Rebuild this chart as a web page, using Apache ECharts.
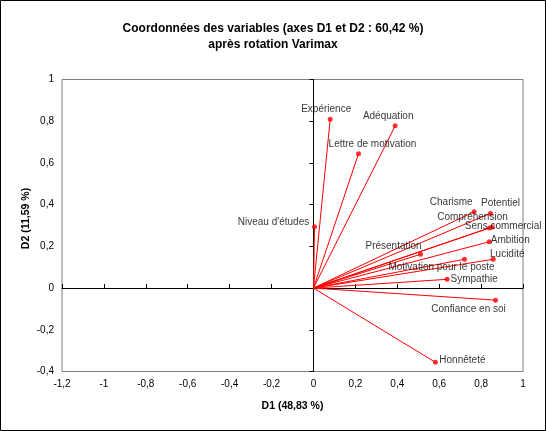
<!DOCTYPE html>
<html>
<head>
<meta charset="utf-8">
<script src="https://cdn.jsdelivr.net/npm/echarts@6/dist/echarts.min.js"></script>
<style>
  html, body { margin: 0; padding: 0; background: #fff; }
  #chart { width: 546px; height: 431px; }
</style>
</head>
<body>
<div id="chart"></div>
<script>
// coordonnées
const variables = [
  "Expérience", "Adéquation", "Lettre de motivation", "Niveau d'études",
  "Charisme", "Potentiel", "Compréhension", "Sens commercial",
  "Ambition", "Lucidité", "Présentation", "Motivation pour le poste",
  "Sympathie", "Confiance en soi", "Honnêteté"
];
const d1 = [0.080, 0.390, 0.215, 0.005, 0.767, 0.845, 0.840, 0.853, 0.839, 0.858, 0.511, 0.721, 0.638, 0.869, 0.582];
const d2 = [0.810, 0.778, 0.644, 0.294, 0.366, 0.358, 0.288, 0.293, 0.222, 0.138, 0.162, 0.138, 0.042, -0.058, -0.356];
const xTicks = [-1.2, -1, -0.8, -0.6, -0.4, -0.2, 0, 0.2, 0.4, 0.6, 0.8, 1];
const yTicks = [-0.4, -0.2, 0, 0.2, 0.4, 0.6, 0.8, 1];

// décalage des étiquettes (px, centre du texte par rapport au point)
const labelOffsets = [
  [-4, -10], [-7, -10], [14, -10], [-41, -5],
  [-23, -9], [10, -10], [-17, -11], [11, -1],
  [21, -2], [14, -5], [-27, -8], [-23, 8],
  [27, 0], [-27, 9], [27, -2]
];

const FONT = "Liberation Sans";
const fmt = (v) => String(Math.round(v * 10) / 10).replace(".", ",");

const chart = echarts.init(document.getElementById("chart"));

const series = [];
variables.forEach((name, i) => {
  series.push({
    name: name,
    type: "line",
    xAxisIndex: 0,
    yAxisIndex: 0,
    data: [[0, 0], [d1[i], d2[i]]],
    symbol: "none",
    lineStyle: { color: "#FF0000", width: 1 },
    silent: true,
    animation: false,
    z: 3,
  });
});
series.push({
  type: "scatter",
  xAxisIndex: 0,
  yAxisIndex: 0,
  symbol: "circle",
  symbolSize: 5,
  itemStyle: { color: "#FF0000" },
  z: 4,
  animation: false,
  data: variables.map((name, i) => ({
    name: name,
    value: [d1[i], d2[i]],
    label: {
      show: true,
      position: "inside",
      offset: labelOffsets[i],
      formatter: "{b}",
      color: "#000",
      fontFamily: FONT,
      fontSize: 10,
    },
  })),
});

chart.setOption({
  animation: false,
  title: {
    text: "Coordonnées des variables (axes D1 et D2 : 60,42 %)\naprès rotation Varimax",
    left: "center",
    top: 16,
    textStyle: { fontFamily: FONT, fontSize: 12, fontWeight: "bold", color: "#000", lineHeight: 16 },
  },
  graphic: [{
    type: "rect",
    shape: { x: 0.5, y: 0.5, width: 545, height: 430 },
    style: { fill: null, stroke: "#000", lineWidth: 1 },
    silent: true,
  }],
  grid: {
    show: true,
    left: 62,
    right: 23,
    top: 79.5,
    bottom: 59.5,
    borderColor: "#808080",
    borderWidth: 1,
    backgroundColor: "#fff",
  },
  xAxis: [
    {
      type: "value",
      min: -1.2,
      max: 1,
      interval: 0.2,
      position: "bottom",
      name: "D1 (48,83 %)",
      nameLocation: "middle",
      nameGap: 29,
      nameMoveOverlap: false,
      nameTextStyle: { fontFamily: FONT, fontSize: 10.5, fontWeight: "bold", color: "#000" },
      axisLine: { show: false, onZero: false },
      axisTick: { show: false },
      splitLine: { show: false },
      axisLabel: {
        margin: 8,
        fontFamily: FONT,
        fontSize: 10,
        color: "#000",
        formatter: (v) => fmt(v),
        customValues: xTicks,
      },
    },
    {
      type: "value",
      min: -1.2,
      max: 1,
      interval: 0.2,
      position: "bottom",
      axisLine: { show: true, onZero: true, onZeroAxisIndex: 1, lineStyle: { color: "#000", width: 1 } },
      axisTick: { show: true, inside: true, length: 4, lineStyle: { color: "#000" } },
      axisLabel: { show: false },
      splitLine: { show: false },
    },
  ],
  yAxis: [
    {
      type: "value",
      min: -0.4,
      max: 1,
      interval: 0.2,
      position: "left",
      name: "D2 (11,59 %)",
      nameLocation: "middle",
      nameGap: 30,
      nameMoveOverlap: false,
      nameTextStyle: { fontFamily: FONT, fontSize: 10.5, fontWeight: "bold", color: "#000", padding: [0, 0, 0, 14] },
      axisLine: { show: false, onZero: false },
      axisTick: { show: false },
      splitLine: { show: false },
      axisLabel: {
        margin: 8,
        fontFamily: FONT,
        fontSize: 10,
        color: "#000",
        formatter: (v) => fmt(v),
        customValues: yTicks,
      },
    },
    {
      type: "value",
      min: -0.4,
      max: 1,
      interval: 0.2,
      position: "left",
      axisLine: { show: true, onZero: true, onZeroAxisIndex: 1, lineStyle: { color: "#000", width: 1 } },
      axisTick: { show: true, inside: false, length: 4, lineStyle: { color: "#000" } },
      axisLabel: { show: false },
      splitLine: { show: false },
    },
  ],
  series: series,
});
</script>
</body>
</html>
